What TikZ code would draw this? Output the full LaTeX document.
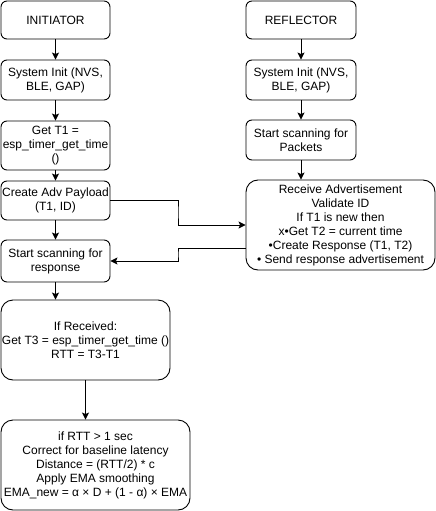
\documentclass[tikz,border=0pt]{standalone}
\usepackage{fontspec}
\setmainfont{Liberation Sans}
\usetikzlibrary{positioning,arrows.meta}
\tikzset{
  box/.style={draw=black,rounded corners=6pt,fill=white,align=center,
              font=\fontsize{12}{14}\selectfont,inner sep=0.5pt,line width=0.9pt,
              minimum width=109pt,minimum height=40pt},
  arr/.style={-{Stealth[length=7pt,width=7pt,inset=1.5pt]},line width=0.9pt,black}
}

\begin{document}
\begin{tikzpicture}[x=1pt,y=-1pt,
  bigbox/.style={box,rounded corners=12pt}]
  \useasboundingbox (0,0) rectangle (436,511);
  \node[box,minimum height=38pt] (init) at (55.5,20) {INITIATOR};
  \node[box] (sysA) at (55.5,80) {System Init (NVS,\\BLE, GAP)};
  \node[box,minimum height=49pt] (getT1) at (55.5,145.5) {Get T1 =\\esp\_timer\_get\_time\\()};
  \node[box,minimum height=39pt] (adv) at (55.5,200.5) {Create Adv Payload\\(T1, ID)};
  \node[box,minimum height=42pt] (scanA) at (55.5,261) {Start scanning for\\response};
  \node[bigbox,minimum width=169pt,minimum height=80pt] (ifrec) at (85.5,340)
    {If Received:\\Get T3 = esp\_timer\_get\_time ()\\RTT = T3-T1};
  \node[bigbox,minimum width=189pt,minimum height=90pt] (ema) at (95.5,465)
    {if RTT > 1 sec\\Correct for baseline latency\\Distance = (RTT/2) * c\\Apply EMA smoothing\\EMA\_new = α × D + (1 - α) × EMA};
  \node[box,minimum width=110pt,minimum height=38pt] (refl) at (301,20) {REFLECTOR};
  \node[box,minimum width=110pt] (sysB) at (301,80) {System Init (NVS,\\BLE, GAP)};
  \node[box,minimum width=110pt] (scanB) at (301,140) {Start scanning for\\Packets};
  \node[bigbox,minimum width=189pt,minimum height=90pt] (recv) at (340.5,225)
    {Receive Advertisement\\Validate ID\\If T1 is new then\\x•Get T2 = current time\\•Create Response (T1, T2)\\ • Send response advertisement};
  \draw[arr] (init) -- (sysA);
  \draw[arr] (sysA) -- (getT1);
  \draw[arr] (getT1) -- (adv);
  \draw[arr] (adv) -- (scanA);
  \draw[arr] (scanA.south) -- (scanA.south |- ifrec.north);
  \draw[arr] (ifrec.south) -- (ifrec.south |- ema.north);
  \draw[arr] (refl) -- (sysB);
  \draw[arr] (sysB) -- (scanB);
  \draw[arr] (scanB.south) -- (scanB.south |- recv.north);
  \coordinate (bendOut) at (178,212);
  \coordinate (bendBack) at (178,254);
  \draw[arr] (adv.east) -| (bendOut) |- (recv.west);
  \draw[arr] ([yshift=-23pt]recv.west) -| (bendBack) |- (scanA.east);
\end{tikzpicture}
\end{document}
